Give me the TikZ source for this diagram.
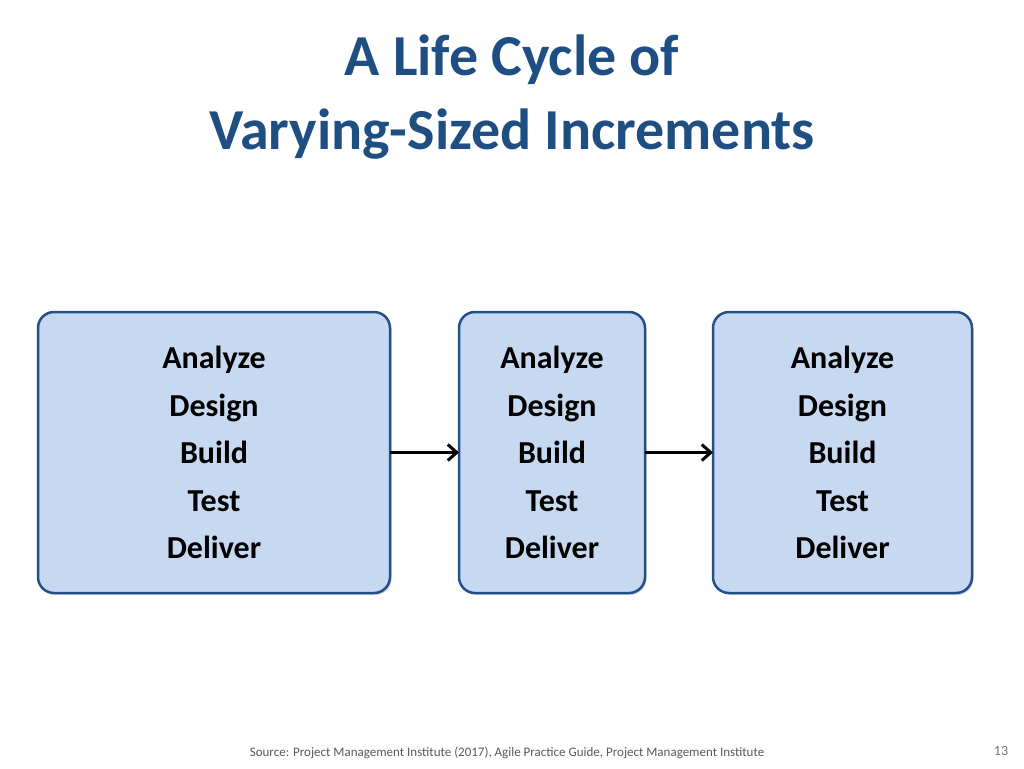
\documentclass[tikz,border=0pt]{standalone}
\usepackage{fontspec}
\setmainfont{Carlito}
\usetikzlibrary{arrows.meta,shadows}
\definecolor{ttl}{HTML}{1F4E82}
\definecolor{bfill}{HTML}{C6D9F1}
\definecolor{bdraw}{HTML}{24508A}
\begin{document}
\begin{tikzpicture}[x=1pt,y=-1pt,
  incbox/.style={draw=bdraw,fill=bfill,line width=2.5pt,rounded corners=16pt,
    drop shadow={shadow xshift=1.5pt,shadow yshift=-2pt,opacity=0.3},
    minimum height=281pt,inner sep=0pt,outer sep=0pt,
    align=center,font=\fontsize{32}{47.5}\selectfont\bfseries,text=black},
  flow/.style={line width=3pt,-{Straight Barb[length=9pt,width=16pt]}},
  ]
\useasboundingbox (0,0) rectangle (1024,768);
\fill[white] (0,0) rectangle (1024,768);
\node[font=\fontsize{58}{74}\selectfont\bfseries,text=ttl,align=center] (title) at (512,97) {A Life Cycle of\\Varying-Sized Increments};
\node[incbox,minimum width=352pt] (b1) at (214,452.5) {Analyze\\Design\\Build\\Test\\Deliver};
\node[incbox,minimum width=186pt] (b2) at (552,452.5) {Analyze\\Design\\Build\\Test\\Deliver};
\node[incbox,minimum width=259pt] (b3) at (842.5,452.5) {Analyze\\Design\\Build\\Test\\Deliver};
\draw[flow] (b1) -- (b2);
\draw[flow] (b2) -- (b3);
\node[font=\fontsize{13}{15}\selectfont,text=black!65] (src) at (507,753) {Source: Project Management Institute (2017), Agile Practice Guide, Project Management Institute};
\node[font=\fontsize{14}{16}\selectfont,text=black!55] (pg) at (1001,751) {13};
\end{tikzpicture}
\end{document}
